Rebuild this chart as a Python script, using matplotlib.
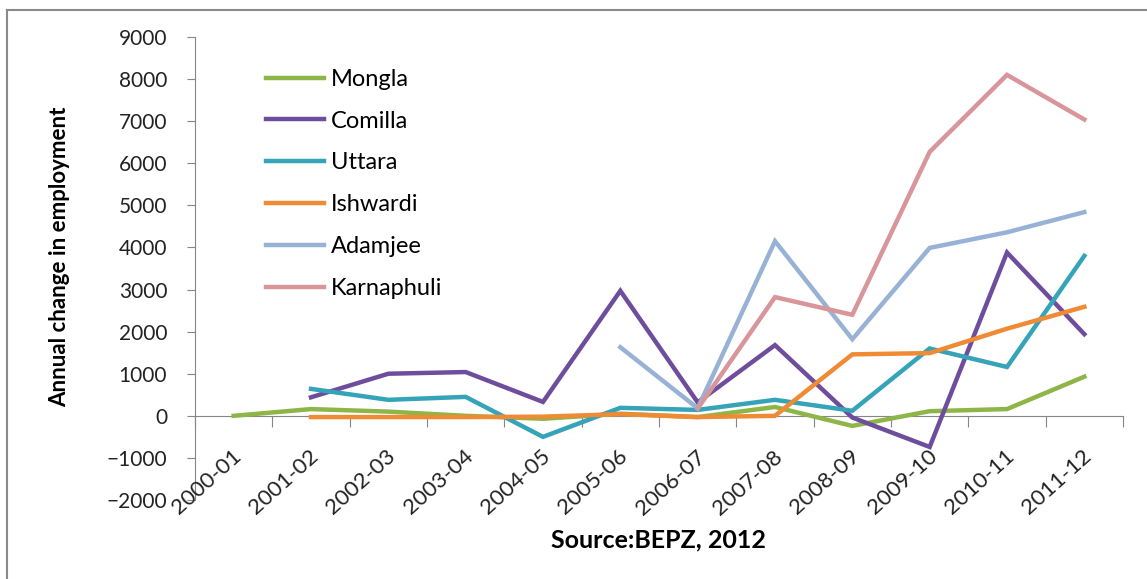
import matplotlib
matplotlib.use("Agg")
import matplotlib.pyplot as plt
from matplotlib.lines import Line2D
import numpy as np

plt.rcParams['font.family'] = ['Lato', 'DejaVu Sans']

years = ['2000-01', '2001-02', '2002-03', '2003-04', '2004-05', '2005-06',
         '2006-07', '2007-08', '2008-09', '2009-10', '2010-11', '2011-12']

nan = np.nan
mongla = [0, 160, 100, 0, -70, 50, -30, 210, -240, 110, 160, 930]
comilla = [nan, 440, 1000, 1040, 330, 2970, 320, 1680, -40, -740, 3880, 1940]
uttara = [nan, 640, 380, 450, -500, 190, 140, 380, 120, 1600, 1160, 3800]
ishwardi = [nan, -30, -30, -30, -20, 40, -30, 0, 1460, 1490, 2070, 2590]
adamjee = [nan, nan, nan, nan, nan, 1630, 180, 4150, 1820, 3990, 4360, 4840]
karnaphuli = [nan, nan, nan, nan, nan, nan, 170, 2820, 2400, 6270, 8100, 7040]

series = [('Mongla', mongla, '#8DB548'),
          ('Comilla', comilla, '#6E4E9C'),
          ('Uttara', uttara, '#35A3B8'),
          ('Ishwardi', ishwardi, '#EF8A35'),
          ('Adamjee', adamjee, '#98B2D6'),
          ('Karnaphuli', karnaphuli, '#D8959A')]

fig = plt.figure(figsize=(11.47, 5.79), dpi=100)
ax = fig.add_axes([195/1147, 79/579, 928/1147, 463/579])

x = np.arange(len(years))
handles = []
for name, vals, col in series:
    ln, = ax.plot(x, vals, color=col, lw=3.2, solid_joinstyle='miter')
    handles.append(ln)

ax.set_xlim(-0.5, 11.5)
ax.set_ylim(-2000, 9000)
ax.set_yticks(np.arange(-2000, 9001, 1000))
ax.tick_params(axis='y', labelsize=15, length=6, color='#868686', pad=14)
for t in ax.get_yticklabels():
    t.set_color('#222222')

ax.set_xticks(np.arange(-0.5, 12, 1))
ax.set_xticklabels([])
ax.tick_params(axis='x', length=8, color='#868686', direction='out')

for s in ['top', 'right']:
    ax.spines[s].set_visible(False)
ax.spines['bottom'].set_position(('data', 0))
ax.spines['bottom'].set_color('#868686')
ax.spines['left'].set_color('#868686')
ax.spines['bottom'].set_zorder(0.5)

for i, lab in enumerate(years):
    ax.text(i + 0.06, -900, lab, rotation=42, rotation_mode='anchor',
            ha='right', va='center', fontsize=16, color='#222222')

ax.set_ylabel('Annual change in employment', fontsize=16, fontweight='bold')
ax.yaxis.set_label_coords(-0.135, 0.525)

ax.legend(handles, [s[0] for s in series], loc='upper left',
          bbox_to_anchor=(0.054, 0.977), frameon=False, fontsize=17,
          handlelength=2.45, handletextpad=0.3, labelspacing=0.88)

fig.text(658/1147, 1 - 540/579, 'Source:BEPZ, 2012', ha='center', va='center',
         fontsize=18, fontweight='bold')

# outer frame (top and left edges only)
fig.add_artist(Line2D([7/1147, 1], [1 - 10/579, 1 - 10/579], transform=fig.transFigure,
                      color='#8a8a8a', lw=1.5))
fig.add_artist(Line2D([7/1147, 7/1147], [0, 1 - 10/579], transform=fig.transFigure,
                      color='#8a8a8a', lw=1.5))

fig.savefig('out.png', dpi=100)
